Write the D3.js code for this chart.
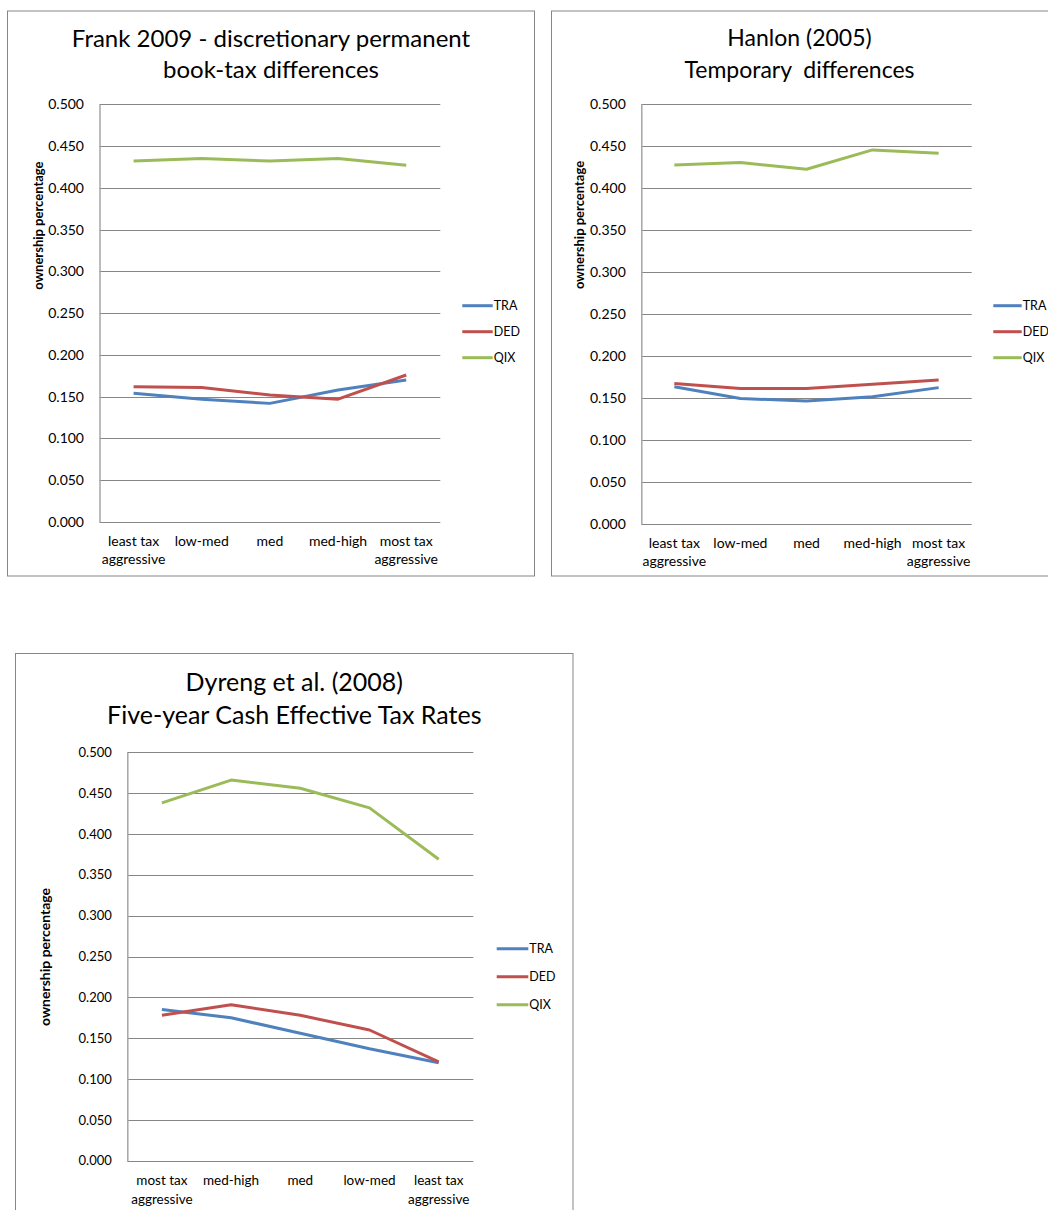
<!DOCTYPE html>
<html>
<head>
<meta charset="utf-8">
<script src="https://cdn.jsdelivr.net/npm/d3@7"></script>
<style>
  html, body { margin: 0; padding: 0; background: #fff; }
  svg { display: block; }
  text { font-family: Lato, "Open Sans", sans-serif; fill: #000; }
</style>
</head>
<body>
<svg id="chart" width="1048" height="1210"></svg>
<script>
// ---------------- data ----------------
const seriesNames = ["TRA", "DED", "QIX"];
const seriesColors = ["#4F81BD", "#C0504D", "#9BBB59"];
const yTickValues = [0, 0.05, 0.1, 0.15, 0.2, 0.25, 0.3, 0.35, 0.4, 0.45, 0.5];

const frankCategories = ["least tax\naggressive", "low-med", "med", "med-high", "most tax\naggressive"];
const frankTRA = [0.154, 0.147, 0.142, 0.158, 0.170];
const frankDED = [0.162, 0.161, 0.152, 0.147, 0.176];
const frankQIX = [0.432, 0.435, 0.432, 0.435, 0.427];

const hanlonCategories = ["least tax\naggressive", "low-med", "med", "med-high", "most tax\naggressive"];
const hanlonTRA = [0.163, 0.149, 0.146, 0.151, 0.162];
const hanlonDED = [0.167, 0.161, 0.161, 0.166, 0.171];
const hanlonQIX = [0.427, 0.430, 0.422, 0.445, 0.441];

const dyrengCategories = ["most tax\naggressive", "med-high", "med", "low-med", "least tax\naggressive"];
const dyrengTRA = [0.185, 0.175, 0.156, 0.137, 0.120];
const dyrengDED = [0.178, 0.191, 0.178, 0.160, 0.121];
const dyrengQIX = [0.438, 0.466, 0.456, 0.432, 0.369];

const yAxisTitle = "ownership percentage";

// ---------------- layout ----------------
const charts = [
  {
    title: ["Frank 2009 - discretionary permanent", "book-tax differences"],
    categories: frankCategories, series: [frankTRA, frankDED, frankQIX],
    frame: {x: 7.5, y: 11, w: 527, h: 565},
    plot: {l: 99.5, r: 440.3, t: 104.3, b: 522},
    titleX: 271, titleY: [47.4, 77.7], titleSize: 24,
    yTitle: {x: 38, y: 225.6, size: 13},
    tickSize: 14, catSize: 14, catDy: [24.4, 42.2],
    legend: {x1: 462.3, x2: 492.7, y0: 305.7, dy: 26, size: 12.5}
  },
  {
    title: ["Hanlon (2005)", "Temporary  differences"],
    categories: hanlonCategories, series: [hanlonTRA, hanlonDED, hanlonQIX],
    frame: {x: 551.5, y: 11, w: 497, h: 565},
    plot: {l: 641.3, r: 971.7, t: 103.7, b: 523.7},
    titleX: 799.5, titleY: [46.2, 77.7], titleSize: 23,
    yTitle: {x: 579.5, y: 225, size: 13},
    tickSize: 14, catSize: 14, catDy: [24.4, 42.2],
    legend: {x1: 993.3, x2: 1021.7, y0: 305.7, dy: 26, size: 12.5}
  },
  {
    title: ["Dyreng et al. (2008)", "Five-year Cash Effective Tax Rates"],
    categories: dyrengCategories, series: [dyrengTRA, dyrengDED, dyrengQIX],
    frame: {x: 15.5, y: 653.5, w: 557.5, h: 575},
    plot: {l: 127.3, r: 473.3, t: 752.3, b: 1160.7},
    titleX: 294.3, titleY: [690.9, 724.3], titleSize: 25,
    yTitle: {x: 45, y: 957, size: 14},
    tickSize: 13, catSize: 13.5, catDy: [24.6, 43.5],
    legend: {x1: 496.7, x2: 528.3, y0: 948.7, dy: 28, size: 12.5}
  }
];

const svg = d3.select("#chart");

charts.forEach(c => {
  const g = svg.append("g");

  // frame
  g.append("rect")
    .attr("x", c.frame.x).attr("y", c.frame.y)
    .attr("width", c.frame.w).attr("height", c.frame.h)
    .attr("fill", "#fff").attr("stroke", "#868686").attr("stroke-width", 1);

  // title
  c.title.forEach((t, i) => {
    g.append("text")
      .attr("x", c.titleX).attr("y", c.titleY[i])
      .attr("text-anchor", "middle")
      .style("font-size", c.titleSize + "px")
      .attr("xml:space", "preserve")
      .style("white-space", "pre")
      .text(t);
  });

  const x = d3.scaleBand().domain(c.categories).range([c.plot.l, c.plot.r]);
  const y = d3.scaleLinear().domain([0, 0.5]).range([c.plot.b, c.plot.t]);

  // gridlines
  g.append("g")
    .selectAll("line").data(yTickValues).join("line")
    .attr("x1", c.plot.l).attr("x2", c.plot.r)
    .attr("y1", d => Math.round(y(d)) + 0.5).attr("y2", d => Math.round(y(d)) + 0.5)
    .attr("stroke", "#868686").attr("stroke-width", 1);

  // y axis
  const yAxis = d3.axisLeft(y).tickValues(yTickValues).tickFormat(d3.format(".3f")).tickSize(0).tickPadding(15.5);
  const ya = g.append("g").attr("transform", `translate(${c.plot.l},0)`).call(yAxis);
  ya.select(".domain").attr("stroke", "#a6a6a6").attr("stroke-width", 1.5);
  ya.selectAll("text").style("font-size", c.tickSize + "px").attr("fill", "#000")
    .style("font-family", "Lato, sans-serif");

  // x axis
  const xAxis = d3.axisBottom(x).tickSize(0).tickFormat("");
  const xa = g.append("g").attr("transform", `translate(0,${c.plot.b})`).call(xAxis);
  xa.select(".domain").remove();
  c.categories.forEach(cat => {
    const lines = cat.split("\n");
    lines.forEach((ln, i) => {
      g.append("text")
        .attr("x", x(cat) + x.bandwidth() / 2)
        .attr("y", c.plot.b + c.catDy[i])
        .attr("text-anchor", "middle")
        .style("font-size", c.catSize + "px")
        .text(ln);
    });
  });

  // y title
  g.append("text")
    .attr("transform", `translate(${c.yTitle.x},${c.yTitle.y}) rotate(-90)`)
    .attr("text-anchor", "middle")
    .attr("dy", "0.35em")
    .style("font-size", c.yTitle.size + "px")
    .style("font-weight", "bold")
    .text(yAxisTitle);

  // lines
  const line = d3.line()
    .x((d, i) => x(c.categories[i]) + x.bandwidth() / 2)
    .y(d => y(d));
  c.series.forEach((s, si) => {
    g.append("path")
      .datum(s)
      .attr("d", line)
      .attr("fill", "none")
      .attr("stroke", seriesColors[si])
      .attr("stroke-width", 3)
      .attr("stroke-linejoin", "round");
  });

  // legend
  seriesNames.forEach((name, i) => {
    const ly = c.legend.y0 + i * c.legend.dy;
    g.append("line")
      .attr("x1", c.legend.x1).attr("x2", c.legend.x2)
      .attr("y1", ly).attr("y2", ly)
      .attr("stroke", seriesColors[i]).attr("stroke-width", 3);
    g.append("text")
      .attr("x", c.legend.x2 + 1).attr("y", ly)
      .attr("dy", "0.36em")
      .style("font-size", c.legend.size + "px")
      .text(name);
  });
});
</script>
</body>
</html>
